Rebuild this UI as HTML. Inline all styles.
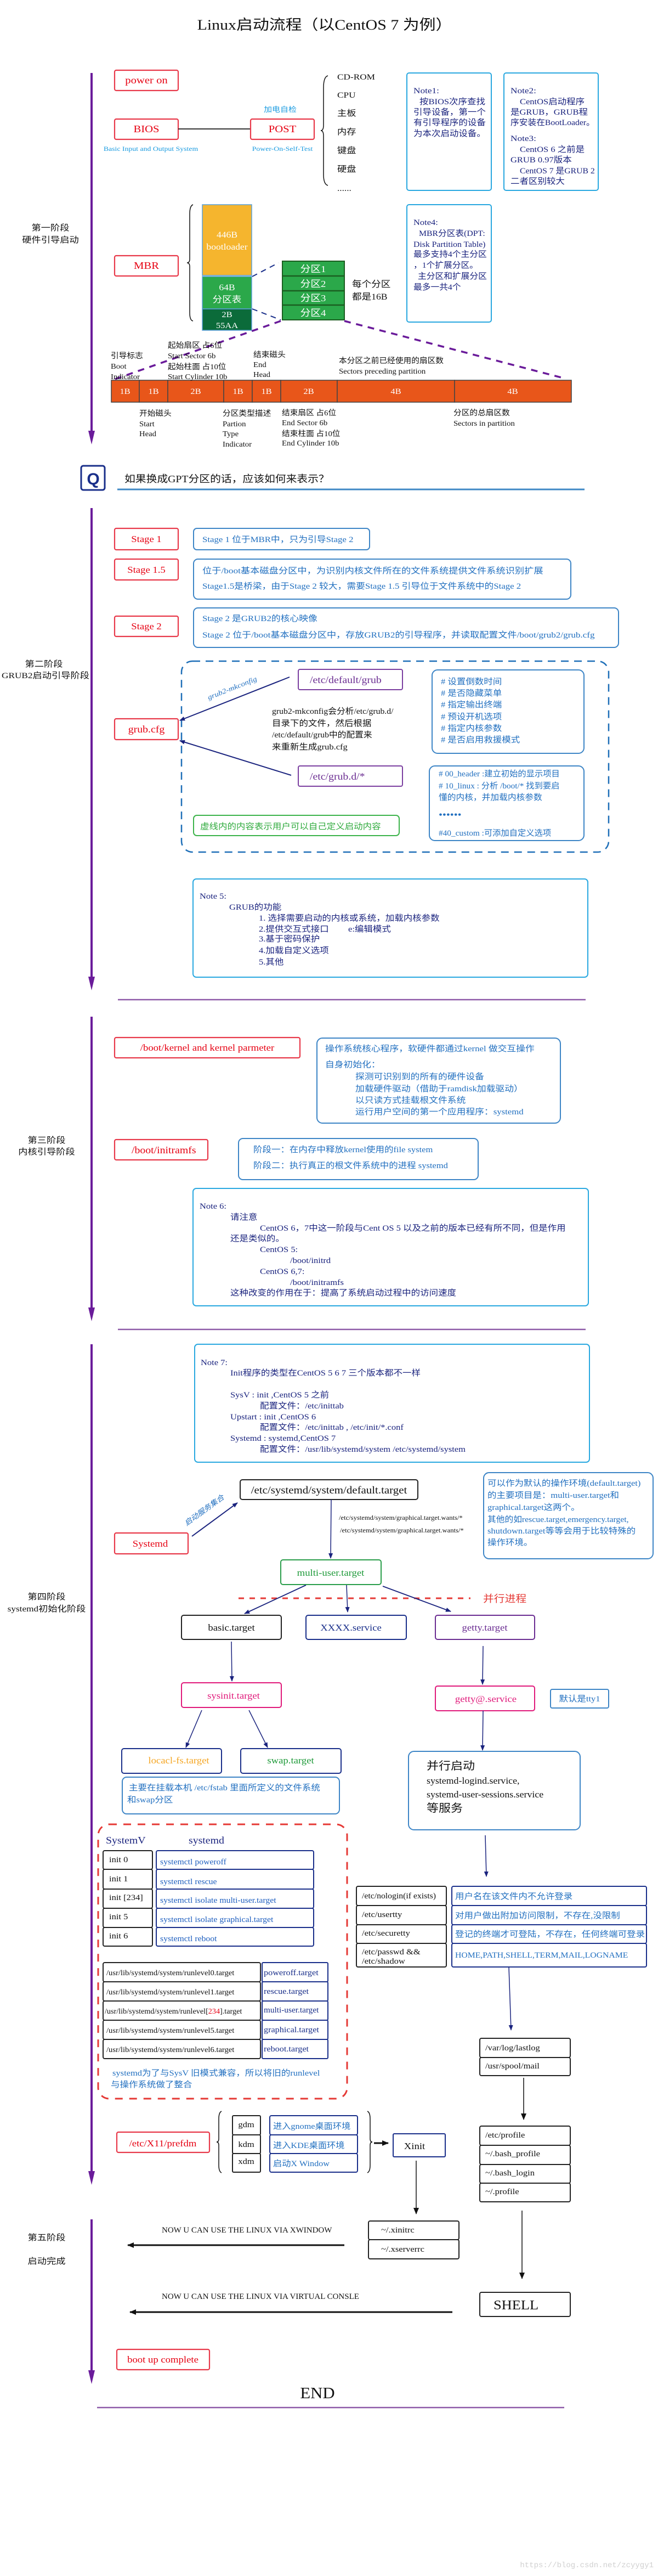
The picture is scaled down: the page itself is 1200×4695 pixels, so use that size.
<!DOCTYPE html>
<html><head><meta charset="utf-8">
<style>
html,body{margin:0;padding:0;background:#fff;}
svg{display:block;}
text{font-family:"Liberation Serif","Noto Sans CJK SC",serif;font-size:15px;fill:#111;}
.n{fill:#1a237e;}
.b{fill:#2270c0;}
.r{fill:#e60012;}
.rb{fill:none;stroke:#e8394a;stroke-width:2.2;}
.nb{fill:none;stroke:#29a8e0;stroke-width:2;}
.db{fill:none;stroke:#3d85c6;stroke-width:2;}
.kb{fill:#fff;stroke:#222;stroke-width:2;}
.mid{text-anchor:middle;}
</style></head>
<body>
<svg width="1200" height="4695" viewBox="0 0 1200 4695" xmlns="http://www.w3.org/2000/svg">
<defs>
<marker id="a" markerWidth="10" markerHeight="8" refX="9" refY="4" orient="auto" markerUnits="userSpaceOnUse"><path d="M0,0 L10,4 L0,8z" fill="#1a237e"/></marker>
<marker id="k" markerWidth="12" markerHeight="10" refX="11" refY="5" orient="auto" markerUnits="userSpaceOnUse"><path d="M0,0 L12,5 L0,10z" fill="#111"/></marker>
</defs>

<!-- Title -->
<text transform="translate(592,54) scale(1.15,1)" class="mid" style="font-size:26px">Linux启动流程（以CentOS 7 为例）</text>

<!-- purple timeline -->
<g stroke="#6a1b9a" stroke-width="4" fill="none">
<line x1="167" y1="133" x2="167" y2="790"/>
<line x1="167" y1="926" x2="167" y2="1785"/>
<line x1="167" y1="1853" x2="167" y2="2388"/>
<line x1="167" y1="2450" x2="167" y2="3962"/>
<line x1="167" y1="4045" x2="167" y2="4325"/>
</g>
<g fill="#6a1b9a">
<polygon points="161,785 173,785 167,810"/>
<polygon points="161,1780 173,1780 167,1805"/>
<polygon points="161,2383 173,2383 167,2408"/>
<polygon points="161,3957 173,3957 167,3982"/>
<polygon points="161,4320 173,4320 167,4345"/>
</g>
<g stroke="#8e5aa8" stroke-width="2.5">
<line x1="215" y1="1822" x2="1068" y2="1822"/>
<line x1="215" y1="2423" x2="1068" y2="2423"/>
<line x1="177" y1="4388" x2="1029" y2="4388"/>
</g>

<!-- stage labels -->
<g class="mid">
<text class="mid" transform="translate(92,420) scale(1.15,1)">第一阶段</text>
<text class="mid" transform="translate(92,442) scale(1.15,1)">硬件引导启动</text>
<text class="mid" transform="translate(80,1215) scale(1.15,1)">第二阶段</text>
<text class="mid" transform="translate(83,1236) scale(1.15,1)">GRUB2启动引导阶段</text>
<text class="mid" transform="translate(85,2083) scale(1.15,1)">第三阶段</text>
<text class="mid" transform="translate(85,2104) scale(1.15,1)">内核引导阶段</text>
<text class="mid" transform="translate(85,2915) scale(1.15,1)">第四阶段</text>
<text class="mid" transform="translate(85,2937) scale(1.15,1)">systemd初始化阶段</text>
<text class="mid" transform="translate(85,4083) scale(1.15,1)">第五阶段</text>
<text class="mid" transform="translate(85,4126) scale(1.15,1)">启动完成</text>
</g>

<!-- Stage 1 hardware -->
<rect x="209" y="128" width="116" height="37" rx="3" class="rb"/>
<text class="mid r" transform="translate(267,152) scale(1.15,1)" style="font-size:18px">power on</text>
<rect x="209" y="217" width="116" height="37" rx="3" class="rb"/>
<text class="mid r" transform="translate(267,241) scale(1.15,1)" style="font-size:18px">BIOS</text>
<line x1="325" y1="235" x2="457" y2="235" stroke="#333" stroke-width="2"/>
<rect x="457" y="217" width="116" height="37" rx="3" class="rb"/>
<text class="mid r" transform="translate(515,241) scale(1.15,1)" style="font-size:18px">POST</text>
<text class="mid" transform="translate(511,204) scale(1.15,1)" style="font-size:13px;fill:#1a9be0">加电自检</text>
<text class="mid" transform="translate(275,275) scale(1.15,1)" style="font-size:12px;fill:#1a9be0">Basic Input and Output System</text>
<text class="mid" transform="translate(515,275) scale(1.15,1)" style="font-size:12px;fill:#1a9be0">Power-On-Self-Test</text>
<path d="M598,138 Q590,140 590,160 L590,228 Q590,238 585,238 Q590,238 590,248 L590,318 Q590,336 598,338" fill="none" stroke="#111" stroke-width="1.5"/>
<g>
<text transform="translate(615,145) scale(1.15,1)">CD-ROM</text>
<text transform="translate(615,178) scale(1.15,1)">CPU</text>
<text transform="translate(615,211) scale(1.15,1)">主板</text>
<text transform="translate(615,245) scale(1.15,1)">内存</text>
<text transform="translate(615,279) scale(1.15,1)">键盘</text>
<text transform="translate(615,313) scale(1.15,1)">硬盘</text>
<text transform="translate(615,348) scale(1.15,1)">......</text>
</g>
<rect x="742" y="133" width="154" height="214" rx="4" class="nb"/>
<g class="n">
<text class="n" transform="translate(754,170) scale(1.15,1)">Note1:</text>
<text class="n" transform="translate(765,190) scale(1.1,1)">按BIOS次序查找</text>
<text class="n" transform="translate(754,209) scale(1.1,1)">引导设备，第一个</text>
<text class="n" transform="translate(754,228) scale(1.1,1)">有引导程序的设备</text>
<text class="n" transform="translate(754,248) scale(1.1,1)">为本次启动设备。</text>
</g>
<rect x="919" y="133" width="172" height="214" rx="4" class="nb"/>
<text class="n" transform="translate(931,170) scale(1.15,1)">Note2:</text>
<text class="n" transform="translate(948,190) scale(1.1,1)">CentOS启动程序</text>
<text class="n" transform="translate(931,209) scale(1.1,1)">是GRUB，GRUB程</text>
<text class="n" transform="translate(931,228) scale(1.05,1)">序安装在BootLoader。</text>
<text class="n" transform="translate(931,257) scale(1.15,1)">Note3:</text>
<text class="n" transform="translate(948,277) scale(1.1,1)">CentOS 6 之前是</text>
<text class="n" transform="translate(931,296) scale(1.1,1)">GRUB 0.97版本</text>
<text class="n" transform="translate(948,316) scale(1.05,1)">CentOS 7 是GRUB 2</text>
<text class="n" transform="translate(931,335) scale(1.1,1)">二者区别较大</text>

<!-- MBR -->
<rect x="742" y="373" width="154" height="214" rx="4" class="nb"/>
<text class="n" transform="translate(754,410) scale(1.1,1)">Note4:</text>
<text class="n" transform="translate(764,430) scale(1.05,1)">MBR分区表(DPT:</text>
<text class="n" transform="translate(754,450) scale(1.05,1)">Disk Partition Table)</text>
<text class="n" transform="translate(754,468) scale(1.05,1)">最多支持4个主分区</text>
<text class="n" transform="translate(754,488) scale(1.05,1)">，1个扩展分区。</text>
<text class="n" transform="translate(762,508) scale(1.05,1)">主分区和扩展分区</text>
<text class="n" transform="translate(754,528) scale(1.05,1)">最多一共4个</text>

<rect x="369" y="373" width="90" height="129" fill="#f5b52e" stroke="#5aa0d8" stroke-width="1.5"/>
<text class="mid" transform="translate(414,433) scale(1.1,1)" style="fill:#fff;font-size:16px">446B</text>
<text class="mid" transform="translate(414,455) scale(1.1,1)" style="fill:#fff;font-size:16px">bootloader</text>
<rect x="369" y="504" width="90" height="59" fill="#2ba84a" stroke="#5aa0d8" stroke-width="1.5"/>
<text class="mid" transform="translate(414,529) scale(1.1,1)" style="fill:#fff;font-size:16px">64B</text>
<text class="mid" transform="translate(414,551) scale(1.1,1)" style="fill:#fff;font-size:16px">分区表</text>
<rect x="369" y="563" width="90" height="39" fill="#0b6b3a" stroke="#5aa0d8" stroke-width="1.5"/>
<text class="mid" transform="translate(414,578) scale(1.1,1)" style="fill:#fff">2B</text>
<text class="mid" transform="translate(414,598) scale(1.1,1)" style="fill:#fff">55AA</text>
<path d="M352,373 Q346,375 346,390 L346,472 Q346,479 341,479 Q346,479 346,486 L346,570 Q346,584 352,585" fill="none" stroke="#111" stroke-width="1.5"/>
<rect x="209" y="466" width="116" height="37" rx="3" class="rb"/>
<text class="mid r" transform="translate(267,490) scale(1.15,1)" style="font-size:18px">MBR</text>
<rect x="515" y="476" width="113" height="107" fill="#2ba84a" stroke="#1b5e20" stroke-width="2"/>
<g stroke="#1b5e20" stroke-width="2.5"><line x1="515" y1="503" x2="628" y2="503"/><line x1="515" y1="530" x2="628" y2="530"/><line x1="515" y1="556" x2="628" y2="556"/></g>
<text class="mid" transform="translate(571,496) scale(1.1,1)" style="fill:#fff;font-size:17px">分区1</text>
<text class="mid" transform="translate(571,523) scale(1.1,1)" style="fill:#fff;font-size:17px">分区2</text>
<text class="mid" transform="translate(571,549) scale(1.1,1)" style="fill:#fff;font-size:17px">分区3</text>
<text class="mid" transform="translate(571,576) scale(1.1,1)" style="fill:#fff;font-size:17px">分区4</text>
<text transform="translate(642,523) scale(1.1,1)" style="font-size:16px">每个分区</text>
<text transform="translate(642,546) scale(1.1,1)" style="font-size:16px">都是16B</text>
<g stroke="#1a2f8a" stroke-width="2" stroke-dasharray="10 8"><line x1="460" y1="504" x2="508" y2="479"/><line x1="460" y1="563" x2="512" y2="583"/></g>
<g stroke="#6a1b9a" stroke-width="3.5" stroke-dasharray="12 10"><line x1="512" y1="585" x2="204" y2="693"/><line x1="628" y1="585" x2="1031" y2="690"/></g>

<g fill="#e8561a" stroke="#444" stroke-width="1.5">
<rect x="203" y="693" width="51" height="40"/><rect x="254" y="693" width="52" height="40"/><rect x="306" y="693" width="102" height="40"/><rect x="408" y="693" width="52" height="40"/><rect x="460" y="693" width="52" height="40"/><rect x="512" y="693" width="103" height="40"/><rect x="615" y="693" width="214" height="40"/><rect x="829" y="693" width="213" height="40"/>
</g>
<g style="fill:#fff">
<text class="mid" transform="translate(228,718) scale(1.1,1)" style="fill:#fff">1B</text>
<text class="mid" transform="translate(280,718) scale(1.1,1)" style="fill:#fff">1B</text>
<text class="mid" transform="translate(357,718) scale(1.1,1)" style="fill:#fff">2B</text>
<text class="mid" transform="translate(434,718) scale(1.1,1)" style="fill:#fff">1B</text>
<text class="mid" transform="translate(486,718) scale(1.1,1)" style="fill:#fff">1B</text>
<text class="mid" transform="translate(563,718) scale(1.1,1)" style="fill:#fff">2B</text>
<text class="mid" transform="translate(722,718) scale(1.1,1)" style="fill:#fff">4B</text>
<text class="mid" transform="translate(935,718) scale(1.1,1)" style="fill:#fff">4B</text>
</g>
<g>
<text transform="translate(202,653) scale(1.05,1)" style="font-size:14px">引导标志</text>
<text transform="translate(202,672) scale(1.05,1)" style="font-size:14px">Boot</text>
<text transform="translate(202,691) scale(1.05,1)" style="font-size:14px">Indicator</text>
<text transform="translate(306,634) scale(1.05,1)" style="font-size:14px">起始扇区 占6位</text>
<text transform="translate(306,653) scale(1.05,1)" style="font-size:14px">Start Sector  6b</text>
<text transform="translate(306,673) scale(1.05,1)" style="font-size:14px">起始柱面 占10位</text>
<text transform="translate(306,691) scale(1.05,1)" style="font-size:14px">Start Cylinder  10b</text>
<text transform="translate(462,651) scale(1.05,1)" style="font-size:14px">结束磁头</text>
<text transform="translate(462,669) scale(1.05,1)" style="font-size:14px">End</text>
<text transform="translate(462,687) scale(1.05,1)" style="font-size:14px">Head</text>
<text transform="translate(618,662) scale(1.05,1)" style="font-size:14px">本分区之前已经使用的扇区数</text>
<text transform="translate(618,681) scale(1.05,1)" style="font-size:14px">Sectors  preceding partition</text>
<text transform="translate(254,758) scale(1.05,1)" style="font-size:14px">开始磁头</text>
<text transform="translate(254,777) scale(1.05,1)" style="font-size:14px">Start</text>
<text transform="translate(254,795) scale(1.05,1)" style="font-size:14px">Head</text>
<text transform="translate(406,758) scale(1.05,1)" style="font-size:14px">分区类型描述</text>
<text transform="translate(406,777) scale(1.05,1)" style="font-size:14px">Partion</text>
<text transform="translate(406,795) scale(1.05,1)" style="font-size:14px">Type</text>
<text transform="translate(406,814) scale(1.05,1)" style="font-size:14px">Indicator</text>
<text transform="translate(514,757) scale(1.05,1)" style="font-size:14px">结束扇区 占6位</text>
<text transform="translate(514,775) scale(1.05,1)" style="font-size:14px">End Sector  6b</text>
<text transform="translate(514,795) scale(1.05,1)" style="font-size:14px">结束柱面 占10位</text>
<text transform="translate(514,812) scale(1.05,1)" style="font-size:14px">End Cylinder  10b</text>
<text transform="translate(827,757) scale(1.05,1)" style="font-size:14px">分区的总扇区数</text>
<text transform="translate(827,776) scale(1.05,1)" style="font-size:14px">Sectors  in  partition</text>
</g>

<!-- Q -->
<rect x="148" y="849" width="43" height="44" rx="4" fill="#fff" stroke="#1a2f8a" stroke-width="3"/>
<text class="mid" x="170" y="883" style="font-family:'Liberation Sans',sans-serif;font-weight:bold;font-size:30px;fill:#1a2f8a">Q</text>
<text transform="translate(227,879) scale(1.1,1)" style="font-size:18px">如果换成GPT分区的话，应该如何来表示？</text>
<line x1="214" y1="892" x2="1066" y2="892" stroke="#3f88c5" stroke-width="3"/>

<!-- Stages -->
<rect x="209" y="963" width="116" height="39" rx="3" class="rb"/>
<text class="mid r" transform="translate(267,988) scale(1.1,1)" style="font-size:17px">Stage 1</text>
<rect x="353" y="963" width="321" height="39" rx="6" class="db"/>
<text class="b" transform="translate(369,988) scale(1.12,1)">Stage 1 位于MBR中，只为引导Stage 2</text>
<rect x="209" y="1019" width="116" height="38" rx="3" class="rb"/>
<text class="mid r" transform="translate(267,1044) scale(1.1,1)" style="font-size:17px">Stage 1.5</text>
<rect x="353" y="1019" width="688" height="73" rx="8" class="db"/>
<text class="b" transform="translate(369,1045) scale(1.15,1)">位于/boot基本磁盘分区中，为识别内核文件所在的文件系统提供文件系统识别扩展</text>
<text class="b" transform="translate(369,1073) scale(1.12,1)">Stage1.5是桥梁，由于Stage 2 较大，需要Stage 1.5 引导位于文件系统中的Stage 2</text>
<rect x="209" y="1123" width="116" height="37" rx="3" class="rb"/>
<text class="mid r" transform="translate(267,1147) scale(1.1,1)" style="font-size:17px">Stage 2</text>
<rect x="353" y="1108" width="775" height="72" rx="8" class="db"/>
<text class="b" transform="translate(369,1132) scale(1.12,1)">Stage 2 是GRUB2的核心映像</text>
<text class="b" transform="translate(369,1162) scale(1.14,1)">Stage 2 位于/boot基本磁盘分区中，存放GRUB2的引导程序，并读取配置文件/boot/grub2/grub.cfg</text>

<!-- GRUB section -->
<rect x="331" y="1205" width="779" height="348" rx="20" fill="none" stroke="#1e6fb8" stroke-width="2.5" stroke-dasharray="14 10"/>
<rect x="209" y="1310" width="116" height="38" rx="3" class="rb"/>
<text class="mid r" transform="translate(267,1335) scale(1.1,1)" style="font-size:18px">grub.cfg</text>
<rect x="544" y="1220" width="190" height="37" rx="3" fill="#fff" stroke="#7b3fa0" stroke-width="2"/>
<text transform="translate(565,1245) scale(1.1,1)" style="font-size:18px;fill:#6a2c91">/etc/default/grub</text>
<rect x="544" y="1396" width="190" height="37" rx="3" fill="#fff" stroke="#7b3fa0" stroke-width="2"/>
<text transform="translate(565,1421) scale(1.1,1)" style="font-size:18px;fill:#6a2c91">/etc/grub.d/*</text>
<line x1="528" y1="1234" x2="328" y2="1313" stroke="#1a237e" stroke-width="2" marker-end="url(#a)"/>
<line x1="531" y1="1413" x2="328" y2="1350" stroke="#1a237e" stroke-width="2" marker-end="url(#a)"/>
<text class="mid" transform="translate(425,1258) rotate(-21.5) scale(1.15,1)" style="font-size:13px;font-style:italic;fill:#2270c0">grub2-mkconfig</text>
<text transform="translate(496,1301) scale(1.05,1)">grub2-mkconfig会分析/etc/grub.d/</text>
<text transform="translate(496,1323) scale(1.1,1)">目录下的文件，然后根据</text>
<text transform="translate(496,1344) scale(1.05,1)">/etc/default/grub中的配置来</text>
<text transform="translate(496,1366) scale(1.1,1)">来重新生成grub.cfg</text>
<rect x="788" y="1221" width="277" height="152" rx="10" class="db"/>
<text class="b" transform="translate(804,1247) scale(1.1,1)"># 设置倒数时间</text>
<text class="b" transform="translate(804,1268) scale(1.1,1)"># 是否隐藏菜单</text>
<text class="b" transform="translate(804,1289) scale(1.1,1)"># 指定输出终端</text>
<text class="b" transform="translate(804,1311) scale(1.1,1)"># 预设开机选项</text>
<text class="b" transform="translate(804,1332) scale(1.1,1)"># 指定内核参数</text>
<text class="b" transform="translate(804,1353) scale(1.1,1)"># 是否启用救援模式</text>
<rect x="783" y="1396" width="282" height="136" rx="10" class="db"/>
<text class="b" transform="translate(800,1415) scale(1.02,1)"># 00_header :建立初始的显示项目</text>
<text class="b" transform="translate(800,1437) scale(1.02,1)"># 10_linux : 分析 /boot/* 找到要启</text>
<text class="b" transform="translate(800,1458) scale(1.05,1)">懂的内核，并加载内核参数</text>
<text class="b" transform="translate(800,1491) scale(1.1,1)" style="font-size:18px">••••••</text>
<text class="b" transform="translate(800,1523) scale(1.02,1)">#40_custom :可添加自定义选项</text>
<rect x="353" y="1486" width="375" height="37" rx="6" fill="none" stroke="#3cb34a" stroke-width="2"/>
<text transform="translate(365,1511) scale(1.1,1)" style="fill:#2eaa3c">虚线内的内容表示用户可以自己定义启动内容</text>

<!-- Note 5 -->
<rect x="352" y="1602" width="720" height="179" rx="6" class="nb"/>
<text class="n" transform="translate(364,1638) scale(1.1,1)">Note 5:</text>
<text class="n" transform="translate(418,1658) scale(1.1,1)">GRUB的功能</text>
<text class="n" transform="translate(472,1678) scale(1.1,1)">1. 选择需要启动的内核或系统，加载内核参数</text>
<text class="n" transform="translate(472,1698) scale(1.1,1)">2.提供交互式接口</text>
<text class="n" transform="translate(635,1698) scale(1.1,1)">e:编辑模式</text>
<text class="n" transform="translate(472,1716) scale(1.1,1)">3.基于密码保护</text>
<text class="n" transform="translate(472,1737) scale(1.1,1)">4.加载自定义选项</text>
<text class="n" transform="translate(472,1758) scale(1.1,1)">5.其他</text>

<!-- Kernel -->
<rect x="209" y="1891" width="338" height="37" rx="3" class="rb"/>
<text class="mid r" transform="translate(378,1915) scale(1.1,1)" style="font-size:17px">/boot/kernel and kernel parmeter</text>
<rect x="578" y="1892" width="444" height="155" rx="10" class="db"/>
<text class="b" transform="translate(593,1916) scale(1.12,1)">操作系统核心程序，软硬件都通过kernel 做交互操作</text>
<text class="b" transform="translate(593,1945) scale(1.12,1)">自身初始化：</text>
<text class="b" transform="translate(648,1967) scale(1.12,1)">探测可识别到的所有的硬件设备</text>
<text class="b" transform="translate(648,1989) scale(1.12,1)">加载硬件驱动（借助于ramdisk加载驱动）</text>
<text class="b" transform="translate(648,2010) scale(1.12,1)">以只读方式挂载根文件系统</text>
<text class="b" transform="translate(648,2031) scale(1.12,1)">运行用户空间的第一个应用程序：systemd</text>

<rect x="209" y="2077" width="170" height="37" rx="3" class="rb"/>
<text class="r" transform="translate(240,2102) scale(1.1,1)" style="font-size:18px">/boot/initramfs</text>
<rect x="435" y="2075" width="437" height="75" rx="8" class="db"/>
<text class="b" transform="translate(462,2100) scale(1.1,1)">阶段一：在内存中释放kernel使用的file system</text>
<text class="b" transform="translate(462,2129) scale(1.1,1)">阶段二：执行真正的根文件系统中的进程 systemd</text>

<rect x="352" y="2166" width="721" height="214" rx="6" class="nb"/>
<text class="n" transform="translate(364,2203) scale(1.1,1)">Note 6:</text>
<text class="n" transform="translate(420,2223) scale(1.1,1)">请注意</text>
<text class="n" transform="translate(474,2243) scale(1.1,1)">CentOS 6，7中这一阶段与Cent OS 5 以及之前的版本已经有所不同，但是作用</text>
<text class="n" transform="translate(420,2262) scale(1.1,1)">还是类似的。</text>
<text class="n" transform="translate(474,2282) scale(1.1,1)">CentOS 5:</text>
<text class="n" transform="translate(529,2302) scale(1.1,1)">/boot/initrd</text>
<text class="n" transform="translate(474,2322) scale(1.1,1)">CentOS 6,7:</text>
<text class="n" transform="translate(529,2342) scale(1.1,1)">/boot/initramfs</text>
<text class="n" transform="translate(420,2361) scale(1.1,1)">这种改变的作用在于：提高了系统启动过程中的访问速度</text>

<!-- Note 7 -->
<rect x="355" y="2450" width="720" height="215" rx="6" class="nb"/>
<text class="n" transform="translate(366,2488) scale(1.1,1)">Note 7:</text>
<text class="n" transform="translate(420,2507) scale(1.1,1)">Init程序的类型在CentOS 5 6 7 三个版本都不一样</text>
<text class="n" transform="translate(420,2547) scale(1.1,1)">SysV : init ,CentOS 5 之前</text>
<text class="n" transform="translate(474,2567) scale(1.1,1)">配置文件：/etc/inittab</text>
<text class="n" transform="translate(420,2587) scale(1.1,1)">Upstart : init ,CentOS 6</text>
<text class="n" transform="translate(474,2606) scale(1.1,1)">配置文件：/etc/inittab , /etc/init/*.conf</text>
<text class="n" transform="translate(420,2626) scale(1.1,1)">Systemd : systemd,CentOS 7</text>
<text class="n" transform="translate(474,2646) scale(1.1,1)">配置文件：/usr/lib/systemd/system    /etc/systemd/system</text>

<!-- systemd -->
<rect x="438" y="2697" width="324" height="36" rx="4" class="kb"/>
<text class="mid" transform="translate(600,2722) scale(1.1,1)" style="font-size:19px">/etc/systemd/system/default.target</text>
<rect x="882" y="2684" width="309" height="157" rx="10" class="db"/>
<text class="b" transform="translate(889,2708) scale(1.1,1)">可以作为默认的操作环境(default.target)</text>
<text class="b" transform="translate(889,2730) scale(1.1,1)">的主要项目是：multi-user.target和</text>
<text class="b" transform="translate(889,2752) scale(1.1,1)">graphical.target这两个。</text>
<text class="b" transform="translate(889,2774) scale(1.05,1)">其他的如rescue.target,emergency.target,</text>
<text class="b" transform="translate(889,2795) scale(1.1,1)">shutdown.target等等会用于比较特殊的</text>
<text class="b" transform="translate(889,2816) scale(1.1,1)">操作环境。</text>
<text transform="translate(618,2770) scale(1.05,1)" style="font-size:12px">/etc/systemd/system/graphical.target.wants/*</text>
<text transform="translate(620,2793) scale(1.05,1)" style="font-size:12px">/etc/systemd/system/graphical.target.wants/*</text>
<line x1="604" y1="2733" x2="603" y2="2840" stroke="#1a237e" stroke-width="1.5" marker-end="url(#a)"/>
<rect x="209" y="2794" width="134" height="38" rx="3" class="rb"/>
<text class="mid r" transform="translate(274,2819) scale(1.1,1)" style="font-size:17px">Systemd</text>
<line x1="350" y1="2800" x2="433" y2="2739" stroke="#1a237e" stroke-width="2" marker-end="url(#a)"/>
<text class="mid" transform="translate(375,2756) rotate(-36) scale(1.1,1)" style="font-size:13px;font-style:italic;fill:#2270c0">启动服务集合</text>

<rect x="512" y="2843" width="183" height="45" rx="4" fill="#fff" stroke="#2a9d4a" stroke-width="2"/>
<text class="mid" transform="translate(603,2872) scale(1.1,1)" style="font-size:17px;fill:#1f9a3a">multi-user.target</text>
<line x1="435" y1="2913" x2="858" y2="2913" stroke="#e53935" stroke-width="3" stroke-dasharray="10 10"/>
<text transform="translate(881,2920) scale(1.1,1)" style="font-size:18px;fill:#e53935">并行进程</text>
<line x1="558" y1="2889" x2="446" y2="2941" stroke="#1a237e" stroke-width="1.8" marker-end="url(#a)"/>
<line x1="632" y1="2889" x2="634" y2="2938" stroke="#1a237e" stroke-width="1.5" marker-end="url(#a)"/>
<line x1="698" y1="2891" x2="822" y2="2937" stroke="#1a237e" stroke-width="1.8" marker-end="url(#a)"/>
<rect x="331" y="2944" width="182" height="44" rx="4" class="kb"/>
<text class="mid" transform="translate(422,2972) scale(1.1,1)" style="font-size:17px">basic.target</text>
<rect x="558" y="2944" width="183" height="44" rx="4" fill="#fff" stroke="#1a2f8a" stroke-width="2"/>
<text class="mid" transform="translate(640,2972) scale(1.1,1)" style="font-size:17px;fill:#1a2f8a">XXXX.service</text>
<rect x="794" y="2944" width="181" height="44" rx="4" fill="#fff" stroke="#6a2c91" stroke-width="2"/>
<text class="mid" transform="translate(884,2972) scale(1.1,1)" style="font-size:17px;fill:#6a2c91">getty.target</text>
<line x1="422" y1="2992" x2="423" y2="3064" stroke="#1a237e" stroke-width="1.5" marker-end="url(#a)"/>
<line x1="881" y1="3000" x2="880" y2="3070" stroke="#1a237e" stroke-width="1.5" marker-end="url(#a)"/>
<rect x="331" y="3067" width="182" height="45" rx="4" fill="#fff" stroke="#e0197a" stroke-width="2"/>
<text class="mid" transform="translate(426,3096) scale(1.1,1)" style="font-size:17px;fill:#e0197a">sysinit.target</text>
<rect x="794" y="3073" width="181" height="45" rx="4" fill="#fff" stroke="#e0197a" stroke-width="2"/>
<text class="mid" transform="translate(886,3102) scale(1.1,1)" style="font-size:17px;fill:#e0197a">getty@.service</text>
<rect x="1004" y="3079" width="106" height="34" rx="3" class="db"/>
<text class="mid b" transform="translate(1057,3101) scale(1.1,1)">默认是tty1</text>
<line x1="368" y1="3117" x2="339" y2="3185" stroke="#1a237e" stroke-width="1.5" marker-end="url(#a)"/>
<line x1="454" y1="3117" x2="488" y2="3185" stroke="#1a237e" stroke-width="1.5" marker-end="url(#a)"/>
<line x1="881" y1="3118" x2="880" y2="3190" stroke="#1a237e" stroke-width="1.5" marker-end="url(#a)"/>
<rect x="222" y="3187" width="182" height="45" rx="4" fill="#fff" stroke="#1a2f8a" stroke-width="2"/>
<text class="mid" transform="translate(326,3214) scale(1.1,1)" style="font-size:17px;fill:#f5a623">locacl-fs.target</text>
<rect x="439" y="3187" width="183" height="45" rx="4" fill="#fff" stroke="#1a2f8a" stroke-width="2"/>
<text class="mid" transform="translate(530,3214) scale(1.1,1)" style="font-size:17px;fill:#1f9a3a">swap.target</text>
<rect x="223" y="3239" width="396" height="67" rx="8" class="db"/>
<text class="b" transform="translate(235,3263) scale(1.1,1)">主要在挂载本机 /etc/fstab 里面所定义的文件系统</text>
<text class="b" transform="translate(232,3285) scale(1.1,1)">和swap分区</text>
<rect x="745" y="3192" width="313" height="143" rx="10" class="db"/>
<text transform="translate(778,3225) scale(1.1,1)" style="font-size:20px">并行启动</text>
<text transform="translate(778,3251) scale(1.05,1)" style="font-size:17px">systemd-logind.service,</text>
<text transform="translate(778,3276) scale(1.05,1)" style="font-size:17px">systemd-user-sessions.service</text>
<text transform="translate(778,3302) scale(1.1,1)" style="font-size:20px">等服务</text>
<line x1="885" y1="3345" x2="887" y2="3420" stroke="#1a237e" stroke-width="1.5" marker-end="url(#a)"/>

<!-- red dashed region -->
<rect x="179" y="3325" width="454" height="500" rx="20" fill="none" stroke="#e53935" stroke-width="3" stroke-dasharray="14 12"/>
<text transform="translate(193,3360) scale(1.1,1)" style="font-size:18px;fill:#1a237e">SystemV</text>
<text transform="translate(344,3360) scale(1.1,1)" style="font-size:18px;fill:#1a237e">systemd</text>
<g>
<rect x="188" y="3373" width="90" height="34" rx="3" class="kb"/><rect x="285" y="3373" width="287" height="34" rx="3" fill="#fff" stroke="#1a2f8a" stroke-width="2"/>
<rect x="188" y="3407" width="90" height="36" rx="3" class="kb"/><rect x="285" y="3407" width="287" height="36" rx="3" fill="#fff" stroke="#1a2f8a" stroke-width="2"/>
<rect x="188" y="3443" width="90" height="35" rx="3" class="kb"/><rect x="285" y="3443" width="287" height="35" rx="3" fill="#fff" stroke="#1a2f8a" stroke-width="2"/>
<rect x="188" y="3478" width="90" height="35" rx="3" class="kb"/><rect x="285" y="3478" width="287" height="35" rx="3" fill="#fff" stroke="#1a2f8a" stroke-width="2"/>
<rect x="188" y="3513" width="90" height="34" rx="3" class="kb"/><rect x="285" y="3513" width="287" height="34" rx="3" fill="#fff" stroke="#1a2f8a" stroke-width="2"/>
</g>
<text transform="translate(199,3394) scale(1.1,1)">init 0</text>
<text transform="translate(199,3429) scale(1.1,1)">init 1</text>
<text transform="translate(199,3463) scale(1.1,1)">init [234]</text>
<text transform="translate(199,3498) scale(1.1,1)">init 5</text>
<text transform="translate(199,3533) scale(1.1,1)">init 6</text>
<text class="b" transform="translate(292,3398) scale(1.05,1)" style="fill:#1f5fbf">systemctl poweroff</text>
<text class="b" transform="translate(292,3434) scale(1.05,1)" style="fill:#1f5fbf">systemctl rescue</text>
<text class="b" transform="translate(292,3468) scale(1.05,1)" style="fill:#1f5fbf">systemctl isolate multi-user.target</text>
<text class="b" transform="translate(292,3503) scale(1.05,1)" style="fill:#1f5fbf">systemctl isolate graphical.target</text>
<text class="b" transform="translate(292,3538) scale(1.05,1)" style="fill:#1f5fbf">systemctl reboot</text>

<g>
<rect x="188" y="3577" width="287" height="35" rx="3" class="kb"/><rect x="478" y="3577" width="120" height="35" rx="2" fill="#fff" stroke="#1a2f8a" stroke-width="2"/>
<rect x="188" y="3612" width="287" height="35" rx="3" class="kb"/><rect x="478" y="3612" width="120" height="35" rx="2" fill="#fff" stroke="#1a2f8a" stroke-width="2"/>
<rect x="188" y="3647" width="287" height="35" rx="3" class="kb"/><rect x="478" y="3647" width="120" height="35" rx="2" fill="#fff" stroke="#1a2f8a" stroke-width="2"/>
<rect x="188" y="3682" width="287" height="35" rx="3" class="kb"/><rect x="478" y="3682" width="120" height="35" rx="2" fill="#fff" stroke="#1a2f8a" stroke-width="2"/>
<rect x="188" y="3717" width="287" height="35" rx="3" class="kb"/><rect x="478" y="3717" width="120" height="35" rx="2" fill="#fff" stroke="#1a2f8a" stroke-width="2"/>
</g>
<g style="font-size:13.5px">
<text transform="translate(194,3600) scale(1.08,1)" style="font-size:13.5px">/usr/lib/systemd/system/runlevel0.target</text>
<text transform="translate(194,3635) scale(1.08,1)" style="font-size:13.5px">/usr/lib/systemd/system/runlevel1.target</text>
<text transform="translate(191,3670) scale(1.05,1)" style="font-size:13.5px">/usr/lib/systemd/system/runlevel[<tspan style="fill:#e60012">234</tspan>].target</text>
<text transform="translate(194,3705) scale(1.08,1)" style="font-size:13.5px">/usr/lib/systemd/system/runlevel5.target</text>
<text transform="translate(194,3740) scale(1.08,1)" style="font-size:13.5px">/usr/lib/systemd/system/runlevel6.target</text>
</g>
<text transform="translate(481,3600) scale(1.08,1)" style="fill:#1a2f8a">poweroff.target</text>
<text transform="translate(481,3634) scale(1.08,1)" style="fill:#1a2f8a">rescue.target</text>
<text transform="translate(481,3668) scale(1.02,1)" style="fill:#1a2f8a">multi-user.target</text>
<text transform="translate(481,3704) scale(1.08,1)" style="fill:#1a2f8a">graphical.target</text>
<text transform="translate(481,3739) scale(1.08,1)" style="fill:#1a2f8a">reboot.target</text>
<text class="b" transform="translate(205,3783) scale(1.1,1)">systemd为了与SysV 旧模式兼容，所以将旧的runlevel</text>
<text class="b" transform="translate(202,3804) scale(1.1,1)">与操作系统做了整合</text>

<!-- login tables -->
<g>
<rect x="650" y="3438" width="164" height="35" rx="3" class="kb"/><rect x="824" y="3438" width="355" height="35" rx="3" fill="#fff" stroke="#1a2f8a" stroke-width="2"/>
<rect x="650" y="3473" width="164" height="35" rx="3" class="kb"/><rect x="824" y="3473" width="355" height="35" rx="3" fill="#fff" stroke="#1a2f8a" stroke-width="2"/>
<rect x="650" y="3508" width="164" height="34" rx="3" class="kb"/><rect x="824" y="3508" width="355" height="34" rx="3" fill="#fff" stroke="#1a2f8a" stroke-width="2"/>
<rect x="650" y="3542" width="164" height="43" rx="3" class="kb"/><rect x="824" y="3542" width="355" height="43" rx="3" fill="#fff" stroke="#1a2f8a" stroke-width="2"/>
</g>
<text transform="translate(660,3460) scale(1.05,1)">/etc/nologin(if exists)</text>
<text transform="translate(660,3494) scale(1.1,1)">/etc/usertty</text>
<text transform="translate(660,3528) scale(1.1,1)">/etc/securetty</text>
<text transform="translate(660,3562) scale(1.1,1)">/etc/passwd &amp;&amp;</text>
<text transform="translate(660,3579) scale(1.1,1)">/etc/shadow</text>
<text class="b" transform="translate(830,3461) scale(1.1,1)">用户名在该文件内不允许登录</text>
<text class="b" transform="translate(830,3496) scale(1.1,1)">对用户做出附加访问限制，不存在,没限制</text>
<text class="b" transform="translate(830,3530) scale(1.1,1)">登记的终端才可登陆，不存在，任何终端可登录</text>
<text class="b" transform="translate(830,3568) scale(1.05,1)">HOME,PATH,SHELL,TERM,MAIL,LOGNAME</text>
<line x1="928" y1="3585" x2="932" y2="3700" stroke="#1a237e" stroke-width="1.5" marker-end="url(#a)"/>
<rect x="875" y="3715" width="165" height="35" rx="3" class="kb"/>
<rect x="875" y="3750" width="165" height="33" rx="3" class="kb"/>
<text transform="translate(885,3737) scale(1.1,1)">/var/log/lastlog</text>
<text transform="translate(885,3770) scale(1.1,1)">/usr/spool/mail</text>
<line x1="955" y1="3787" x2="955" y2="3863" stroke="#111" stroke-width="1.5" marker-end="url(#k)"/>
<rect x="875" y="3875" width="165" height="35" rx="3" class="kb"/>
<rect x="875" y="3910" width="165" height="35" rx="3" class="kb"/>
<rect x="875" y="3945" width="165" height="34" rx="3" class="kb"/>
<rect x="875" y="3979" width="165" height="34" rx="3" class="kb"/>
<text transform="translate(885,3896) scale(1.1,1)">/etc/profile</text>
<text transform="translate(885,3930) scale(1.1,1)">~/.bash_profile</text>
<text transform="translate(885,3965) scale(1.1,1)">~/.bash_login</text>
<text transform="translate(885,3999) scale(1.1,1)">~/.profile</text>

<!-- X -->
<rect x="213" y="3886" width="169" height="37" rx="3" class="rb"/>
<text class="mid r" transform="translate(297,3912) scale(1.1,1)" style="font-size:17px">/etc/X11/prefdm</text>
<path d="M404,3848 Q399,3850 399,3862 L399,3898 Q399,3904 395,3904 Q399,3904 399,3910 L399,3946 Q399,3958 404,3960" fill="none" stroke="#111" stroke-width="1.5"/>
<path d="M670,3848 Q675,3850 675,3862 L675,3898 Q675,3904 679,3904 Q675,3904 675,3910 L675,3946 Q675,3958 670,3960" fill="none" stroke="#111" stroke-width="1.5"/>
<rect x="424" y="3856" width="51" height="35" rx="2" class="kb"/>
<rect x="424" y="3891" width="51" height="34" rx="2" class="kb"/>
<rect x="424" y="3925" width="51" height="34" rx="2" class="kb"/>
<text class="mid" transform="translate(449,3877) scale(1.1,1)">gdm</text>
<text class="mid" transform="translate(449,3913) scale(1.1,1)">kdm</text>
<text class="mid" transform="translate(449,3944) scale(1.1,1)">xdm</text>
<rect x="492" y="3856" width="160" height="35" rx="3" fill="#fff" stroke="#1a2f8a" stroke-width="2"/>
<rect x="492" y="3891" width="160" height="34" rx="3" fill="#fff" stroke="#1a2f8a" stroke-width="2"/>
<rect x="492" y="3925" width="160" height="34" rx="3" fill="#fff" stroke="#1a2f8a" stroke-width="2"/>
<text class="b" transform="translate(498,3880) scale(1.08,1)">进入gnome桌面环境</text>
<text class="b" transform="translate(498,3915) scale(1.08,1)">进入KDE桌面环境</text>
<text class="b" transform="translate(498,3948) scale(1.08,1)">启动X Window</text>
<line x1="682" y1="3906" x2="708" y2="3906" stroke="#111" stroke-width="3" marker-end="url(#k)"/>
<rect x="717" y="3889" width="95" height="42" rx="2" fill="#fff" stroke="#1a2f8a" stroke-width="2"/>
<text class="mid" transform="translate(756,3917) scale(1.1,1)" style="font-size:17px">Xinit</text>
<line x1="759" y1="3938" x2="759" y2="4035" stroke="#111" stroke-width="1.5" marker-end="url(#k)"/>
<rect x="672" y="4048" width="165" height="34" rx="3" class="kb"/>
<rect x="672" y="4082" width="165" height="35" rx="3" class="kb"/>
<text transform="translate(695,4069) scale(1.1,1)">~/.xinitrc</text>
<text transform="translate(695,4104) scale(1.1,1)">~/.xserverrc</text>
<line x1="952" y1="4029" x2="952" y2="4153" stroke="#111" stroke-width="1.5" marker-end="url(#k)"/>
<text transform="translate(295,4069) scale(1.0,1)" style="font-size:15px">NOW U CAN USE THE LINUX VIA XWINDOW</text>
<line x1="628" y1="4092" x2="233" y2="4092" stroke="#111" stroke-width="3" marker-end="url(#k)"/>
<rect x="875" y="4178" width="165" height="44" rx="3" class="kb"/>
<text transform="translate(900,4209) scale(1.1,1)" style="font-size:24px">SHELL</text>
<text transform="translate(295,4190) scale(1.0,1)" style="font-size:15px">NOW U CAN USE THE LINUX VIA VIRTUAL CONSLE</text>
<line x1="825" y1="4214" x2="237" y2="4214" stroke="#111" stroke-width="3" marker-end="url(#k)"/>
<rect x="213" y="4282" width="169" height="37" rx="3" class="rb"/>
<text class="mid r" transform="translate(297,4306) scale(1.1,1)" style="font-size:17px">boot up complete</text>
<text class="mid" transform="translate(579,4371) scale(1.1,1)" style="font-size:28px">END</text>
<text transform="translate(1192,4679) scale(1.0,1)" style="text-anchor:end;font-size:14px;fill:#d0d0d0;font-family:'Liberation Mono',monospace">https://blog.csdn.net/zcyygy1</text>
</svg>
</body></html>
